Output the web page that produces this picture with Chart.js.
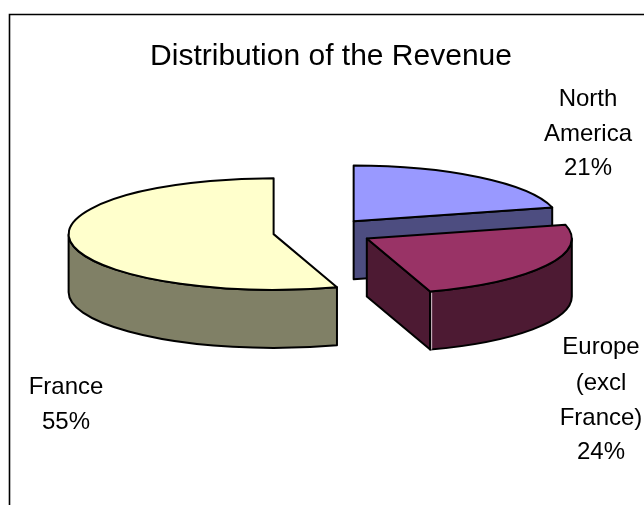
<!DOCTYPE html>
<html><head><meta charset="utf-8">
<style>html,body{margin:0;padding:0;background:#fff}canvas{display:block}</style>
<script src="https://cdn.jsdelivr.net/npm/chart.js@4"></script>
</head><body>
<canvas id="c" width="644" height="505"></canvas>
<script>
const categories = ['North America', 'Europe (excl France)', 'France'];
const shares = [21, 24, 55];
const titleText = 'Distribution of the Revenue';
const topColors = ['#9999FF', '#993366', '#FFFFCC'];
const sideColors = ['#4D4D80', '#4D1A33', '#808066'];
const labelLines = [['North', 'America', '21%'], ['Europe', '(excl', 'France)', '24%'], ['France', '55%']];
const labelX = [588, 601, 66];
const labelY = [[106, 141, 175], [354, 390, 425, 459], [394, 429]];

const TILT = 0.272, DEPTH = 58, CY = 232, EXPLODE = 50;
const FONT = '"Liberation Sans", Arial, sans-serif';

const pie3d = {
  id: 'pie3d',
  beforeDatasetsDraw(chart) {
    const ctx = chart.ctx;
    ctx.save();
    // frame
    ctx.strokeStyle = '#000'; ctx.lineWidth = 1.6;
    ctx.beginPath(); ctx.moveTo(9.5, 505); ctx.lineTo(9.5, 14.5); ctx.lineTo(644, 14.5); ctx.stroke();
    ctx.lineJoin = 'round'; ctx.lineWidth = 2;
    chart.getDatasetMeta(0).data.forEach((arc, i) => {
      const p = arc.getProps(['x', 'startAngle', 'endAngle', 'outerRadius'], true);
      const mid = (p.startAngle + p.endAngle) / 2;
      const x = p.x + Math.cos(mid) * EXPLODE;
      const y = CY + Math.sin(mid) * EXPLODE * TILT;
      const rx = p.outerRadius, ry = rx * TILT;
      const pt = a => [x + rx * Math.cos(a), y + ry * Math.sin(a)];
      const shape = (fill, build) => {
        ctx.beginPath(); build(); ctx.closePath();
        ctx.fillStyle = fill; ctx.fill(); ctx.strokeStyle = '#000'; ctx.stroke();
      };
      const side = sideColors[i];
      const radial = a => shape(side, () => {
        const q = pt(a);
        ctx.moveTo(x, y); ctx.lineTo(q[0], q[1]); ctx.lineTo(q[0], q[1] + DEPTH); ctx.lineTo(x, y + DEPTH);
      });
      if (Math.sin(p.startAngle - Math.PI / 2) > 1e-6) radial(p.startAngle);
      if (Math.sin(p.endAngle + Math.PI / 2) > 1e-6) radial(p.endAngle);
      const a0 = Math.max(p.startAngle, 0), a1 = Math.min(p.endAngle, Math.PI);
      if (a1 > a0) shape(side, () => {
        ctx.ellipse(x, y, rx, ry, 0, a0, a1);
        ctx.ellipse(x, y + DEPTH, rx, ry, 0, a1, a0, true);
      });
      // pale seam where a radial wall meets the rim
      if (a1 > a0 && Math.sin(p.endAngle + Math.PI / 2) > 1e-6 && a1 === p.endAngle) {
        const q = pt(a1);
        ctx.beginPath(); ctx.moveTo(q[0] + 1.5, q[1] + 1); ctx.lineTo(q[0] + 1.5, q[1] + DEPTH);
        ctx.lineWidth = 1; ctx.strokeStyle = '#d8c8d0'; ctx.stroke(); ctx.lineWidth = 2;
      }
      shape(arc.options.backgroundColor, () => {
        ctx.moveTo(x, y);
        ctx.ellipse(x, y, rx, ry, 0, p.startAngle, p.endAngle);
      });
    });
    // texts
    ctx.fillStyle = '#000'; ctx.textAlign = 'center'; ctx.textBaseline = 'alphabetic';
    ctx.font = '30px ' + FONT;
    ctx.fillText(titleText, 331, 65);
    ctx.font = '24px ' + FONT;
    labelLines.forEach((lines, i) => lines.forEach((t, j) => ctx.fillText(t, labelX[i], labelY[i][j])));
    ctx.restore();
    return false;
  }
};

new Chart(document.getElementById('c'), {
  type: 'pie',
  data: { labels: categories, datasets: [{ data: shares, backgroundColor: topColors }] },
  options: {
    responsive: false, animation: false, radius: 205,
    layout: { padding: { left: 2 } },
    plugins: { legend: { display: false }, tooltip: { enabled: false }, title: { display: false } }
  },
  plugins: [pie3d]
});
</script>
</body></html>
